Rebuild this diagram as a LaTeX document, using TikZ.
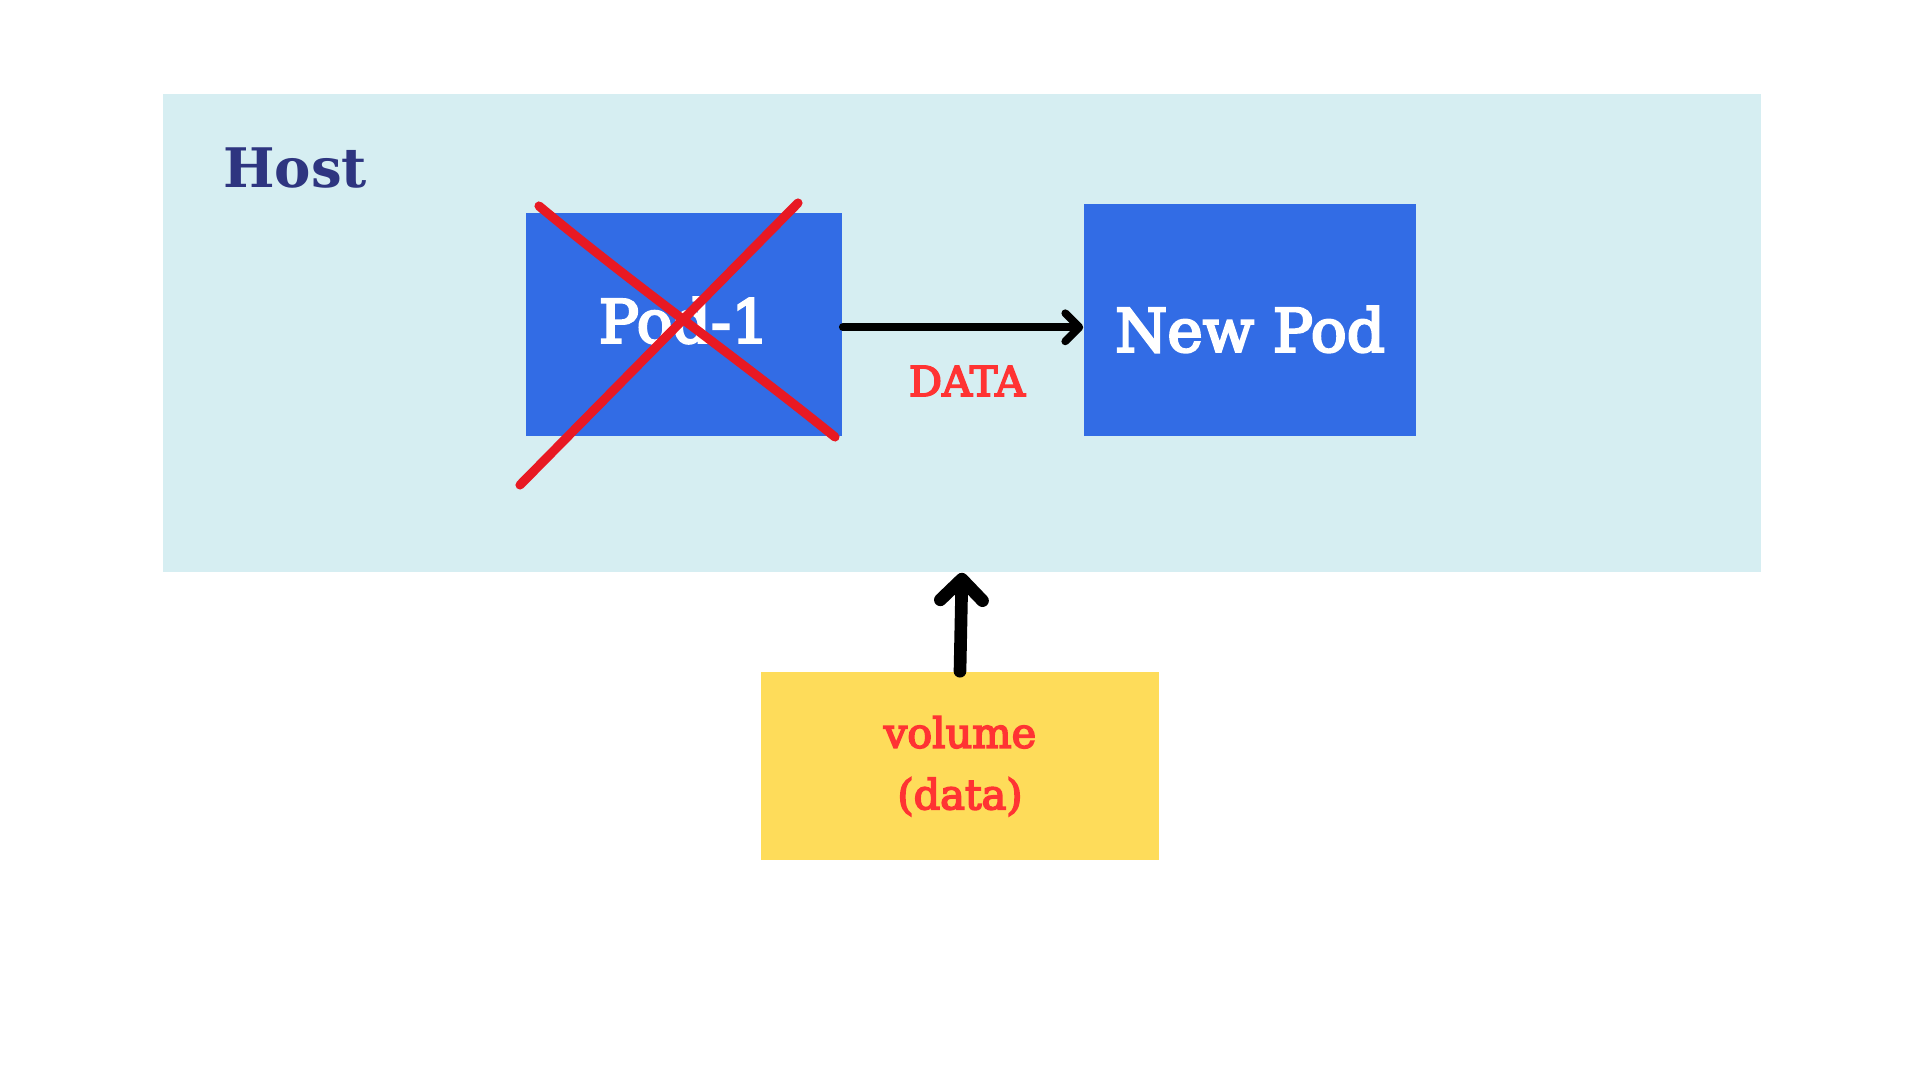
\documentclass[tikz,border=0pt]{standalone}
\usepackage{fontspec}
\setmainfont{DejaVu Serif}
\newfontfamily\semifont[FakeBold=4]{DejaVu Serif}
\usetikzlibrary{positioning,arrows.meta}
\definecolor{hostCyan}{RGB}{214, 238, 242}
\definecolor{hostNavy}{RGB}{46, 53, 128}
\definecolor{podBlue}{RGB}{50, 108, 229}
\definecolor{volYellow}{RGB}{254, 220, 90}
\definecolor{labelRed}{RGB}{255, 51, 51}
\definecolor{crossRed}{RGB}{232, 25, 35}

\begin{document}
\begin{tikzpicture}[x=0.01cm, y=-0.01cm,
    podbox/.style={fill=podBlue, text=white, inner sep=0pt, font=\semifont\fontsize{17}{20}\selectfont},
    flowarrow/.style={black, line cap=round}]
        \fill[white] (0,0) rectangle (1920,1080);
        \useasboundingbox (0,0) rectangle (1920,1080);

        \node[fill=hostCyan, minimum width=15.98cm, minimum height=4.78cm, inner sep=0pt] (host) at (962,333) {};
        \node[text=hostNavy, font=\bfseries\fontsize{15.5}{18}\selectfont] (hostlabel) at (295,168) {Host};

        \node[podbox, minimum width=3.16cm, minimum height=2.23cm] (pod1) at (684,324.5) {\raisebox{-5.2pt}[0pt][0pt]{Pod-1}};
        \node[podbox, minimum width=3.32cm, minimum height=2.32cm] (newpod) at (1250,320) {\raisebox{-9pt}[0pt][0pt]{New Pod}};
        \node[fill=volYellow, text=labelRed, align=center, minimum width=3.98cm, minimum height=1.88cm, inner sep=0pt,
              font=\semifont\fontsize{11.8}{17.5}\selectfont] (vol) at (960,766) {volume\\(data)};

        \draw[->, flowarrow, line width=2.2pt, -{Straight Barb[length=4pt, width=8pt, round]}] ([yshift=-0.8pt]pod1.east) -- ([yshift=-0.8pt]pod1 -| newpod.west);
        \node[text=labelRed, font=\semifont\fontsize{11.8}{14}\selectfont] (datalabel) at (967,381) {DATA};

        \draw[flowarrow, line width=3.6pt, -{Straight Barb[length=6pt, width=12pt, round]}] (vol.north) -- (host.south);

        \draw[crossRed, line width=2.6pt, line cap=round] (539,206) .. controls (640,290) and (740,360) .. (835,437);
        \draw[crossRed, line width=2.6pt, line cap=round] (520,485) -- (798,203);
      \end{tikzpicture}
\end{document}
